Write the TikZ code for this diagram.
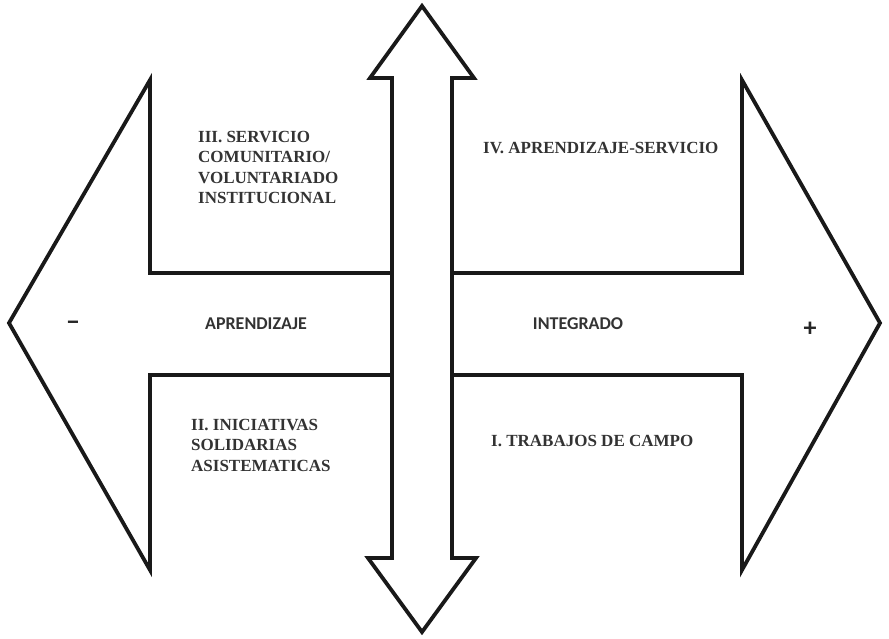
\documentclass[tikz,border=0pt]{standalone}
\usepackage{fontspec}
\setmainfont{Liberation Serif}
\newfontfamily\axisfont{Carlito}
\begin{document}
\begin{tikzpicture}[x=1pt,y=-1pt,
    outline/.style={draw=black!90,line width=3.8pt,line join=miter,fill=white},
    quadrant/.style={inner sep=0pt,align=left,font=\bfseries\fontsize{17}{20.5}\selectfont,text=black!80},
    axislabel/.style={inner sep=0pt,font=\axisfont\bfseries\fontsize{18}{20}\selectfont,text=black!80},
    signlabel/.style={inner sep=0pt,font=\axisfont\bfseries\fontsize{26}{26}\selectfont,text=black!85}]
      \useasboundingbox (0,0) rectangle (889,639);
      % horizontal arrow first, vertical arrow on top of it
      \draw[outline] (9,323) -- (150,80) -- (150,273) -- (742,273) -- (742,80)
        -- (880,323) -- (742,570) -- (742,375) -- (150,375) -- (150,570) -- cycle;
      \draw[outline] (422,6) -- (474,78) -- (452,78) -- (452,558) -- (476,558)
        -- (422,632) -- (368,558) -- (392,558) -- (392,78) -- (370,78) -- cycle;
      \node[quadrant,anchor=north west](q3) at (198,131)
        {III. SERVICIO\\COMUNITARIO/\\VOLUNTARIADO\\INSTITUCIONAL};
      \node[quadrant,anchor=base west](q4) at (483,154) {IV. APRENDIZAJE-SERVICIO};
      \node[quadrant,anchor=north west](q2) at (191,419)
        {II. INICIATIVAS\\SOLIDARIAS\\ASISTEMATICAS};
      \node[quadrant,anchor=base west](q1) at (491,446) {I. TRABAJOS DE CAMPO};
      \node[axislabel,anchor=base](learn) at (256,329) {APRENDIZAJE};
      \node[axislabel,anchor=base](integ) at (578,329) {INTEGRADO};
      \node[signlabel](minus) at (73,326) {\textminus};
      \node[signlabel](plus) at (810,329) {+};
    \end{tikzpicture}
\end{document}
